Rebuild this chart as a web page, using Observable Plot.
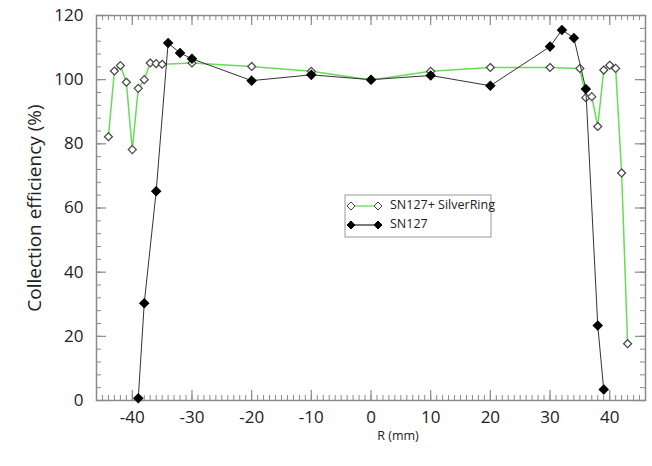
<!DOCTYPE html>
<html>
<head>
<meta charset="utf-8">
<script src="https://cdn.jsdelivr.net/npm/d3@7"></script>
<script src="https://cdn.jsdelivr.net/npm/@observablehq/plot@0.6"></script>
<style>
  html, body { margin: 0; padding: 0; background: #fff; }
  #chart svg { display: block; }
</style>
</head>
<body>
<div id="chart"></div>
<script>
// Data
const R_silver = [-44,-43,-42,-41,-40,-39,-38,-37,-36,-35,-30,-20,-10,0,10,20,30,35,36,37,38,39,40,41,42,43];
const E_silver = [82.2,102.7,104.4,99.2,78.2,97.3,100,105.2,105,104.8,105.2,104.1,102.6,99.9,102.6,103.8,103.8,103.5,94.4,94.7,85.4,103.0,104.5,103.5,70.9,17.7];
const R_sn127 = [-39,-38,-36,-34,-32,-30,-20,-10,0,10,20,30,32,34,36,38,39];
const E_sn127 = [0.7,30.3,65.2,111.4,108.3,106.5,99.7,101.5,100,101.3,98.1,110.3,115.5,113.0,97.1,23.4,3.4];
const seriesNames = ["SN127+ SilverRing", "SN127"];
const xTickLabels = [-40,-30,-20,-10,0,10,20,30,40];
const yTickLabels = [0,20,40,60,80,100,120];
const xMinorTicks = d3.range(-46, 47, 1);
const yMinorTicks = d3.range(0, 121, 4);

const silver = R_silver.map((r, i) => ({r, e: E_silver[i]}));
const sn127 = R_sn127.map((r, i) => ({r, e: E_sn127[i]}));

const W = 652, H = 466, mL = 96, mR = 7, mT = 15, mB = 66;
const pw = W - mL - mR, ph = H - mT - mB;
const axisColor = "#8a8a8a";
const green = "#66dd55";

const chart = Plot.plot({
  width: W, height: H,
  marginLeft: mL, marginRight: mR, marginTop: mT, marginBottom: mB,
  style: {fontFamily: "'Open Sans', sans-serif", background: "#fff", color: "#222"},
  x: {domain: [-46, 46], axis: null},
  y: {domain: [0, 120], axis: null},
  marks: [
    // minor ticks (inward, all four sides)
    Plot.tickX(xMinorTicks, {x: d => d, insetTop: ph - 5, stroke: axisColor, strokeWidth: 1}),
    Plot.tickX(xMinorTicks, {x: d => d, insetBottom: ph - 5, stroke: axisColor, strokeWidth: 1}),
    Plot.tickY(yMinorTicks, {y: d => d, insetRight: pw - 5, stroke: axisColor, strokeWidth: 1}),
    Plot.tickY(yMinorTicks, {y: d => d, insetLeft: pw - 5, stroke: axisColor, strokeWidth: 1}),
    // major ticks
    Plot.tickX(xTickLabels, {x: d => d, insetTop: ph - 10, stroke: axisColor, strokeWidth: 1.2}),
    Plot.tickX(xTickLabels, {x: d => d, insetBottom: ph - 10, stroke: axisColor, strokeWidth: 1.2}),
    Plot.tickY(yTickLabels, {y: d => d, insetRight: pw - 10, stroke: axisColor, strokeWidth: 1.2}),
    Plot.tickY(yTickLabels, {y: d => d, insetLeft: pw - 10, stroke: axisColor, strokeWidth: 1.2}),
    Plot.frame({stroke: axisColor, strokeWidth: 1.5}),
    Plot.axisX(xTickLabels, {tickSize: 0, tickPadding: 10, fontSize: 17, tickFormat: d => String(d), label: null, fill: "#222"}),
    Plot.axisY(yTickLabels, {tickSize: 0, tickPadding: 13, fontSize: 17, tickFormat: d => String(d), label: null, fill: "#222"}),
    // series
    Plot.line(silver, {x: "r", y: "e", stroke: green, strokeWidth: 1.5}),
    Plot.dot(silver, {x: "r", y: "e", symbol: "diamond2", r: 3.6, fill: "#fff", stroke: "#444", strokeWidth: 1.2}),
    Plot.line(sn127, {x: "r", y: "e", stroke: "#333", strokeWidth: 1}),
    Plot.dot(sn127, {x: "r", y: "e", symbol: "diamond2", r: 3.8, fill: "#000", stroke: "#000"})
  ]
});

const svg = d3.select(chart);
// axis titles
svg.append("text")
  .attr("transform", "translate(36,208) rotate(-90)")
  .attr("text-anchor", "middle").attr("dominant-baseline", "middle")
  .attr("font-family", "'Open Sans', sans-serif").attr("font-size", 19).attr("fill", "#222")
  .text("Collection efficiency (%)");
svg.append("text")
  .attr("x", 398).attr("y", 437)
  .attr("text-anchor", "middle").attr("dominant-baseline", "middle")
  .attr("font-family", "'Open Sans', sans-serif").attr("font-size", 12.5).attr("fill", "#222")
  .text("R (mm)");

// legend
const lg = svg.append("g").attr("font-family", "'Open Sans', sans-serif").attr("font-size", 12.5).attr("fill", "#222").attr("text-anchor", "start");
lg.append("rect").attr("x", 345).attr("y", 195).attr("width", 146).attr("height", 42)
  .attr("fill", "#fff").attr("stroke", "#999").attr("stroke-width", 1);
const rows = [
  {name: seriesNames[0], stroke: green, fill: "#fff", mstroke: "#444", y: 206},
  {name: seriesNames[1], stroke: "#333", fill: "#000", mstroke: "#000", y: 225}
];
const diamond = (cx, cy, s) => `M${cx},${cy - s}L${cx + s},${cy}L${cx},${cy + s}L${cx - s},${cy}Z`;
rows.forEach(d => {
  lg.append("line").attr("x1", 351).attr("x2", 378).attr("y1", d.y).attr("y2", d.y)
    .attr("stroke", d.stroke).attr("stroke-width", 1.3);
  [351, 378].forEach(cx => lg.append("path").attr("d", diamond(cx, d.y, 4))
    .attr("fill", d.fill).attr("stroke", d.mstroke).attr("stroke-width", 1));
  lg.append("text").attr("x", 390).attr("y", d.y).attr("text-anchor", "start")
    .attr("dominant-baseline", "middle").text(d.name);
});

document.getElementById("chart").appendChild(chart);
</script>
</body>
</html>
